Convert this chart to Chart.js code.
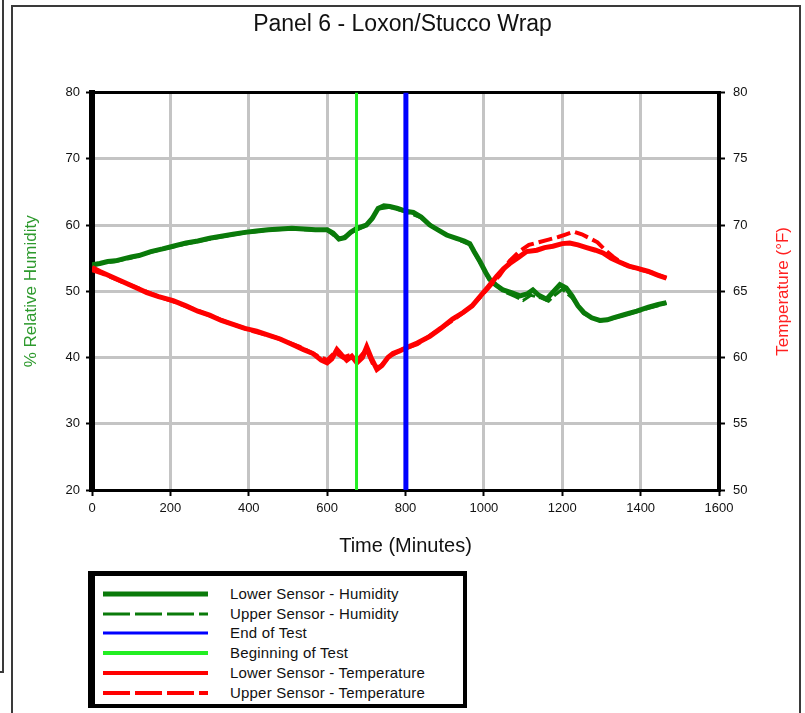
<!DOCTYPE html>
<html>
<head>
<meta charset="utf-8">
<script src="https://cdn.jsdelivr.net/npm/chart.js@4.4.0/dist/chart.umd.min.js"></script>
<style>
  html, body { margin: 0; padding: 0; background: #fff; }
  body { width: 805px; height: 713px; position: relative; overflow: hidden; font-family: "Liberation Sans", Arial, sans-serif; }
  #c { position: absolute; left: 0; top: 0; }
  .frame { position: absolute; background: #3a3a3a; }
  #legend { position: absolute; left: 88px; top: 571px; width: 368px; height: 128px;
    border-left: 7px solid #000; border-top: 5px solid #000; border-right: 4px solid #000; border-bottom: 4px solid #000;
    background: #fff; box-sizing: content-box; }
  .row { position: absolute; left: 0; height: 20px; width: 360px; }
  .row svg { position: absolute; left: 8px; top: 0; }
  .row span { position: absolute; left: 135px; top: 1px; font-size: 15px; color: #111; white-space: nowrap; line-height: 18px; letter-spacing: 0.2px; }
</style>
</head>
<body>
<canvas id="c" width="805" height="713"></canvas>
<div class="frame" style="left:2px;top:0;width:2px;height:672px"></div>
<div class="frame" style="left:0;top:671px;width:4px;height:2px"></div>
<div class="frame" style="left:11px;top:5px;width:2px;height:708px"></div>
<div class="frame" style="left:11px;top:5px;width:790px;height:2px"></div>
<div class="frame" style="left:799px;top:5px;width:2px;height:708px"></div>
<div id="legend"></div>
<script>
// ---- data ----
const titleText = "Panel 6 - Loxon/Stucco Wrap";
const xTicks = [0, 200, 400, 600, 800, 1000, 1200, 1400, 1600];
const rhTicks = [20, 30, 40, 50, 60, 70, 80];
const tempTicks = [50, 55, 60, 65, 70, 75, 80];

const lowerHumTime = [0,20,40,60,80,100,120,150,180,207,240,270,300,330,360,390,420,450,480,510,540,570,600,615,630,645,660,676,700,715,730,745,760,780,800,820,840,862,885,905,930,950,964,975,990,1005,1015,1030,1049,1070,1092,1110,1125,1140,1160,1175,1194,1210,1225,1240,1255,1275,1296,1315,1330,1360,1390,1420,1445,1466];
const lowerHum = [54.0,54.2,54.5,54.6,54.9,55.2,55.4,56.0,56.4,56.8,57.3,57.6,58.0,58.3,58.6,58.9,59.1,59.3,59.4,59.5,59.4,59.3,59.3,58.8,57.9,58.1,58.9,59.5,60.0,61.0,62.5,62.9,62.8,62.5,62.1,61.9,61.2,60.0,59.2,58.5,58.0,57.6,57.2,56.0,54.5,52.8,51.8,51.0,50.2,49.8,49.3,49.6,50.2,49.4,48.8,49.8,51.0,50.5,49.3,47.8,46.8,46.0,45.6,45.7,46.0,46.5,47.0,47.6,48.0,48.3];

const upperHumTime = [0,30,60,100,150,207,270,330,390,450,510,570,600,630,660,700,730,760,800,840,885,930,964,990,1015,1049,1080,1100,1120,1145,1165,1185,1200,1225,1255,1296,1330,1390,1466];
const upperHum = [53.8,54.3,54.5,55.0,55.9,56.7,57.5,58.2,58.8,59.2,59.4,59.2,59.2,57.8,58.8,59.9,62.4,62.7,62.0,61.1,59.1,57.9,57.0,54.3,51.6,50.0,49.2,48.6,49.4,49.0,48.5,49.6,50.3,49.0,46.6,45.5,45.9,46.9,48.2];

const lowerTempTime = [0,20,50,80,110,140,170,207,240,270,300,330,360,390,420,450,480,510,540,564,585,600,612,625,637,650,663,676,690,701,712,727,740,755,768,785,803,830,862,890,920,947,970,990,1010,1032,1050,1066,1090,1109,1135,1155,1176,1200,1219,1240,1262,1285,1304,1325,1347,1370,1390,1420,1445,1466];
const lowerTemp = [66.8,66.5,66.1,65.7,65.3,64.9,64.6,64.3,63.9,63.5,63.2,62.8,62.5,62.2,62.0,61.7,61.4,61.0,60.6,60.3,59.8,59.6,59.9,60.6,60.2,59.8,60.1,59.6,60.0,60.8,60.0,59.1,59.4,60.0,60.3,60.5,60.75,61.1,61.6,62.2,62.9,63.4,63.9,64.6,65.3,66.1,66.7,67.1,67.6,68.0,68.1,68.3,68.4,68.6,68.65,68.5,68.3,68.1,67.9,67.5,67.2,66.9,66.75,66.5,66.2,66.0];

const upperTempTime = [0,30,70,120,170,230,290,350,410,470,530,570,600,620,640,660,680,700,720,735,760,790,830,870,920,970,1010,1040,1066,1090,1115,1140,1165,1190,1210,1230,1250,1270,1290,1310,1330,1360,1390,1430,1466];
const upperTemp = [66.6,66.3,65.8,65.2,64.6,64.0,63.3,62.6,62.0,61.5,60.8,60.2,59.8,60.4,60.0,60.2,59.9,60.6,59.3,59.3,60.1,60.6,61.0,61.8,62.8,63.9,65.2,66.2,67.3,68.0,68.5,68.7,68.9,69.1,69.3,69.5,69.3,69.0,68.7,68.1,67.6,67.0,66.7,66.4,66.0];

const beginTest = 675;
const endTest = 801;

function pts(xs, ys) { return xs.map((x, i) => ({ x: x, y: ys[i] })); }

const dark = '#0a7a0a';
const series = [
  { label: 'Lower Sensor - Humidity', data: pts(lowerHumTime, lowerHum), borderColor: dark, borderWidth: 5, yAxisID: 'y', order: 4 },
  { label: 'Upper Sensor - Humidity', data: pts(upperHumTime, upperHum), borderColor: dark, borderWidth: 3, borderDash: [14, 4], yAxisID: 'y', order: 3 },
  { label: 'End of Test', data: [{ x: endTest, y: 20 }, { x: endTest, y: 80 }], borderColor: '#0000ff', borderWidth: 5, yAxisID: 'y', order: 0 },
  { label: 'Beginning of Test', data: [{ x: beginTest, y: 20 }, { x: beginTest, y: 80 }], borderColor: '#22ee22', borderWidth: 3, yAxisID: 'y', order: 0 },
  { label: 'Lower Sensor - Temperature', data: pts(lowerTempTime, lowerTemp), borderColor: '#ff0000', borderWidth: 5, yAxisID: 'y1', order: 1 },
  { label: 'Upper Sensor - Temperature', data: pts(upperTempTime, upperTemp), borderColor: '#ff0000', borderWidth: 4, borderDash: [14, 5], yAxisID: 'y1', order: 2 }
];
series.forEach(s => { s.pointRadius = 0; s.fill = false; s.tension = 0; s.borderCapStyle = 'butt'; });

const FONT = '"Liberation Sans", Arial, sans-serif';
const plain = v => String(v);

const frameAndTitle = {
  id: 'frameAndTitle',
  beforeDatasetsDraw(chart) {
    const { ctx, chartArea: a } = chart;
    ctx.save();
    ctx.strokeStyle = '#000';
    ctx.lineWidth = 3;
    ctx.beginPath(); ctx.moveTo(a.left, a.top); ctx.lineTo(a.right, a.top); ctx.stroke();
    ctx.restore();
  },
  afterDraw(chart) {
    const { ctx, chartArea: a } = chart;
    ctx.save();
    ctx.translate(783, (a.top + a.bottom) / 2);
    ctx.rotate(-Math.PI / 2);
    ctx.fillStyle = '#ff2020';
    ctx.font = '17px ' + FONT;
    ctx.textAlign = 'center';
    ctx.textBaseline = 'middle';
    ctx.fillText('Temperature (\u00B0F)', 0, 0);
    ctx.restore();
  }
};

new Chart(document.getElementById('c'), {
  type: 'line',
  data: { datasets: series },
  plugins: [frameAndTitle],
  options: {
    responsive: false,
    devicePixelRatio: 1,
    animation: false,
    layout: { padding: 0 },
    plugins: {
      legend: { display: false },
      tooltip: { enabled: false },
      title: { display: true, text: titleText, color: '#111', font: { family: FONT, size: 23, weight: 'normal' }, padding: { top: 11, bottom: 54 } }
    },
    scales: {
      x: {
        type: 'linear', min: 0, max: 1600,
        afterBuildTicks(s) { s.ticks = xTicks.map(v => ({ value: v })); },
        afterFit(s) { s.height = 223; },
        ticks: { color: '#111', font: { family: FONT, size: 13 }, padding: 5, maxRotation: 0, callback: plain },
        grid: { color: '#c4c4c4', lineWidth: 3, tickColor: '#000', tickLength: 6, tickWidth: 2 },
        border: { display: true, color: '#000', width: 3 },
        title: { display: true, text: 'Time (Minutes)', color: '#111', font: { family: FONT, size: 20 }, padding: { top: 0, bottom: 155 } }
      },
      y: {
        position: 'left', min: 20, max: 80,
        afterBuildTicks(s) { s.ticks = rhTicks.map(v => ({ value: v })); },
        afterFit(s) { s.width = 92; },
        ticks: { color: '#111', font: { family: FONT, size: 13 }, padding: 6, callback: plain },
        grid: { color: '#c4c4c4', lineWidth: 3, tickColor: '#000', tickLength: 6, tickWidth: 2 },
        border: { display: true, color: '#000', width: 6 },
        title: { display: true, text: '% Relative Humidity', color: '#2e9a2e', font: { family: FONT, size: 17 }, padding: { top: 21, bottom: 0 } }
      },
      y1: {
        position: 'right', min: 50, max: 80,
        afterBuildTicks(s) { s.ticks = tempTicks.map(v => ({ value: v })); },
        afterFit(s) { s.width = 86; },
        ticks: { color: '#111', font: { family: FONT, size: 13 }, padding: 8, callback: plain },
        grid: { drawOnChartArea: false, tickColor: '#000', tickLength: 6, tickWidth: 2 },
        border: { display: true, color: '#000', width: 4 }
      }
    }
  }
});

// ---- legend (HTML) ----
const legendRows = [
  { text: series[0].label, color: dark, w: 5, dash: '' },
  { text: series[1].label, color: dark, w: 3, dash: '27 5' },
  { text: series[2].label, color: '#0000ff', w: 3, dash: '' },
  { text: series[3].label, color: '#22ee22', w: 4, dash: '' },
  { text: series[4].label, color: '#ff0000', w: 4, dash: '' },
  { text: series[5].label, color: '#ff0000', w: 4, dash: '27 5' }
];
const lg = document.getElementById('legend');
legendRows.forEach((r, i) => {
  const d = document.createElement('div');
  d.className = 'row';
  d.style.top = (8 + i * 19.7) + 'px';
  d.innerHTML = '<svg width="110" height="20"><line x1="0" y1="10" x2="105" y2="10" stroke="' + r.color + '" stroke-width="' + r.w + '"' + (r.dash ? ' stroke-dasharray="' + r.dash + '"' : '') + '/></svg><span>' + r.text + '</span>';
  lg.appendChild(d);
});
</script>
</body>
</html>
